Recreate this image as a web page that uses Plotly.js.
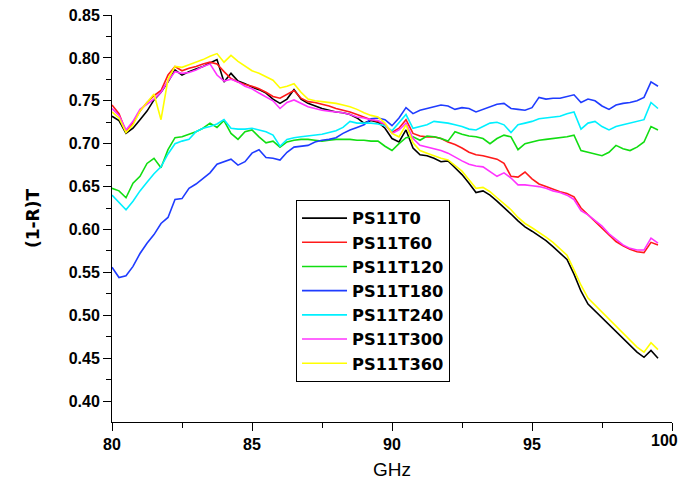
<!DOCTYPE html>
<html>
<head>
<meta charset="utf-8">
<script src="https://cdn.plot.ly/plotly-3.0.1.min.js"></script>
<style>html,body{margin:0;padding:0;background:#fff;}#chart{width:681px;height:484px;}</style>
</head>
<body>
<div id="chart"></div>
<script>
// Frequency grid (GHz)
const freq = [80.00,80.25,80.50,80.75,81.00,81.25,81.50,81.75,82.00,82.25,82.50,82.75,83.00,83.25,83.50,83.75,84.00,84.25,84.50,84.75,85.00,85.25,85.50,85.75,86.00,86.25,86.50,86.75,87.00,87.25,87.50,87.75,88.00,88.25,88.50,88.75,89.00,89.25,89.50,89.75,90.00,90.25,90.50,90.75,91.00,91.25,91.50,91.75,92.00,92.25,92.50,92.75,93.00,93.25,93.50,93.75,94.00,94.25,94.50,94.75,95.00,95.25,95.50,95.75,96.00,96.25,96.50,96.75,97.00,97.25,97.50,97.75,98.00,98.25,98.50,98.75,99.00,99.25,99.50];

const seriesNames = ["PS11T0","PS11T60","PS11T120","PS11T180","PS11T240","PS11T300","PS11T360"];
const seriesColors = ["#000000","#ff1a1a","#11dd11","#1f3cff","#00f0ff","#ff33ff","#ffff00"];

const t0 = [0.732,0.727,0.712,0.718,0.728,0.738,0.751,0.760,0.772,0.786,0.780,0.784,0.787,0.790,0.794,0.798,0.772,0.782,0.773,0.770,0.766,0.763,0.759,0.752,0.747,0.752,0.763,0.752,0.747,0.744,0.741,0.739,0.737,0.736,0.734,0.730,0.724,0.727,0.725,0.718,0.706,0.702,0.716,0.695,0.687,0.686,0.683,0.679,0.680,0.672,0.664,0.654,0.643,0.645,0.640,0.633,0.626,0.618,0.610,0.603,0.598,0.593,0.587,0.580,0.573,0.565,0.548,0.528,0.513,0.505,0.496,0.489,0.481,0.472,0.464,0.457,0.451,0.459,0.450];

const t60 = [0.745,0.735,0.714,0.724,0.738,0.748,0.756,0.762,0.780,0.790,0.785,0.788,0.790,0.793,0.795,0.793,0.784,0.776,0.772,0.769,0.767,0.764,0.760,0.755,0.753,0.758,0.762,0.753,0.749,0.748,0.746,0.744,0.741,0.739,0.737,0.734,0.731,0.728,0.726,0.722,0.713,0.718,0.728,0.712,0.709,0.708,0.708,0.706,0.702,0.699,0.695,0.690,0.687,0.686,0.684,0.682,0.677,0.662,0.661,0.667,0.659,0.653,0.650,0.647,0.644,0.642,0.638,0.625,0.617,0.610,0.602,0.593,0.586,0.581,0.577,0.574,0.573,0.585,0.582];

const t120 = [0.648,0.645,0.637,0.654,0.662,0.677,0.683,0.672,0.693,0.707,0.708,0.711,0.714,0.718,0.724,0.719,0.727,0.712,0.705,0.714,0.716,0.708,0.701,0.703,0.696,0.702,0.704,0.705,0.705,0.704,0.703,0.704,0.705,0.705,0.705,0.704,0.704,0.703,0.703,0.697,0.692,0.700,0.707,0.708,0.704,0.709,0.708,0.706,0.703,0.714,0.711,0.709,0.708,0.706,0.700,0.706,0.710,0.708,0.693,0.700,0.702,0.704,0.705,0.706,0.707,0.708,0.710,0.692,0.690,0.688,0.686,0.690,0.698,0.694,0.692,0.696,0.702,0.720,0.716];

const t180 = [0.556,0.544,0.546,0.557,0.572,0.584,0.594,0.607,0.614,0.635,0.636,0.648,0.653,0.660,0.666,0.676,0.679,0.682,0.675,0.679,0.689,0.693,0.684,0.683,0.681,0.690,0.696,0.697,0.698,0.702,0.704,0.705,0.707,0.712,0.716,0.719,0.722,0.729,0.730,0.728,0.721,0.730,0.742,0.735,0.739,0.741,0.743,0.745,0.744,0.740,0.742,0.741,0.737,0.740,0.743,0.746,0.747,0.741,0.740,0.739,0.742,0.754,0.752,0.753,0.753,0.755,0.757,0.748,0.752,0.750,0.744,0.740,0.745,0.747,0.748,0.750,0.754,0.772,0.767];

const t240 = [0.640,0.632,0.623,0.633,0.645,0.655,0.665,0.673,0.688,0.700,0.703,0.705,0.714,0.718,0.720,0.723,0.728,0.718,0.717,0.717,0.718,0.716,0.714,0.710,0.697,0.705,0.707,0.708,0.709,0.710,0.711,0.713,0.715,0.719,0.726,0.724,0.724,0.724,0.723,0.721,0.715,0.725,0.734,0.718,0.720,0.722,0.726,0.725,0.724,0.722,0.720,0.717,0.716,0.720,0.724,0.725,0.722,0.713,0.722,0.724,0.726,0.729,0.730,0.731,0.732,0.735,0.737,0.717,0.724,0.726,0.720,0.716,0.720,0.722,0.724,0.726,0.728,0.748,0.741];

const t300 = [0.741,0.733,0.716,0.726,0.740,0.746,0.752,0.760,0.773,0.784,0.782,0.783,0.786,0.790,0.793,0.780,0.773,0.775,0.772,0.767,0.764,0.759,0.754,0.750,0.741,0.748,0.751,0.747,0.743,0.741,0.739,0.738,0.737,0.736,0.734,0.731,0.730,0.728,0.727,0.723,0.712,0.716,0.724,0.706,0.698,0.696,0.694,0.692,0.689,0.684,0.680,0.676,0.674,0.673,0.668,0.662,0.666,0.660,0.652,0.652,0.651,0.650,0.648,0.645,0.643,0.640,0.635,0.622,0.617,0.610,0.604,0.595,0.588,0.582,0.578,0.576,0.576,0.590,0.584];

const t360 = [0.737,0.730,0.713,0.722,0.738,0.748,0.758,0.728,0.775,0.790,0.789,0.792,0.795,0.798,0.802,0.805,0.795,0.803,0.796,0.790,0.785,0.782,0.778,0.774,0.765,0.767,0.770,0.760,0.752,0.750,0.749,0.748,0.747,0.745,0.743,0.740,0.736,0.733,0.731,0.724,0.712,0.708,0.722,0.701,0.692,0.689,0.686,0.683,0.681,0.675,0.668,0.658,0.648,0.649,0.644,0.637,0.630,0.623,0.614,0.607,0.602,0.597,0.591,0.585,0.578,0.570,0.553,0.535,0.520,0.512,0.503,0.495,0.488,0.479,0.471,0.463,0.457,0.468,0.460];

const xTickVals = [80,85,90,95,100];
const xTickText = ["80","85","90","95",""];
const xEndLabel = "100";
const yTickVals = [0.40,0.45,0.50,0.55,0.60,0.65,0.70,0.75,0.80,0.85];
const yTickText = ["0.40","0.45","0.50","0.55","0.60","0.65","0.70","0.75","0.80","0.85"];

const allSeries = [t0,t60,t120,t180,t240,t300,t360];

const traces = allSeries.map((ys, i) => ({
  x: freq, y: ys, type: 'scatter', mode: 'lines',
  name: seriesNames[i],
  line: {color: seriesColors[i], width: 1.6}
}));

const tickFont = {family: 'Liberation Sans, Arial, sans-serif', size: 16, color: '#000', weight: 'bold'};

const layout = {
  width: 681, height: 484,
  margin: {l: 112, r: 9, t: 15, b: 62, pad: 0},
  paper_bgcolor: '#fff', plot_bgcolor: '#fff',
  showlegend: true,
  legend: {
    x: 0.3286, y: 0.5455, xanchor: 'left', yanchor: 'top',
    bgcolor: '#fff', bordercolor: '#000', borderwidth: 1,
    font: {family: 'DejaVu Sans, sans-serif', size: 16.3, color: '#000', weight: 'bold'},
    traceorder: 'normal', itemwidth: 45
  },
  xaxis: {
    range: [80, 100], tickvals: xTickVals, ticktext: xTickText,
    ticks: 'outside', ticklen: 8, tickwidth: 1, tickcolor: '#000',
    showline: true, linecolor: '#000', linewidth: 1, mirror: false,
    showgrid: false, zeroline: false, tickfont: tickFont,
    minor: {tickvals: [82.5, 87.5, 92.5, 97.5], ticks: 'outside', ticklen: 5, tickcolor: '#000', showgrid: false},
    title: {text: 'GHz', font: {family: 'Liberation Sans, Arial, sans-serif', size: 19, color: '#000'}, standoff: 10}
  },
  yaxis: {
    range: [0.3756, 0.85], tickvals: yTickVals, ticktext: yTickText,
    ticks: 'outside', ticklen: 8, tickwidth: 1, tickcolor: '#000',
    showline: true, linecolor: '#000', linewidth: 1, mirror: false,
    showgrid: false, zeroline: false, tickfont: tickFont,
    minor: {tickvals: [0.425,0.475,0.525,0.575,0.625,0.675,0.725,0.775,0.825], ticks: 'outside', ticklen: 5, tickcolor: '#000', showgrid: false},
    title: {text: '(1-R)T', font: {family: 'DejaVu Sans, sans-serif', size: 17, color: '#000', weight: 'bold'}, standoff: 24}
  },
  annotations: [{
    text: xEndLabel, xref: 'x', yref: 'paper', x: 100, y: 0,
    xanchor: 'right', yanchor: 'top', xshift: 8, yshift: -8,
    showarrow: false, font: tickFont
  }]
};

Plotly.newPlot('chart', traces, layout, {displayModeBar: false, staticPlot: true});
</script>
</body>
</html>
